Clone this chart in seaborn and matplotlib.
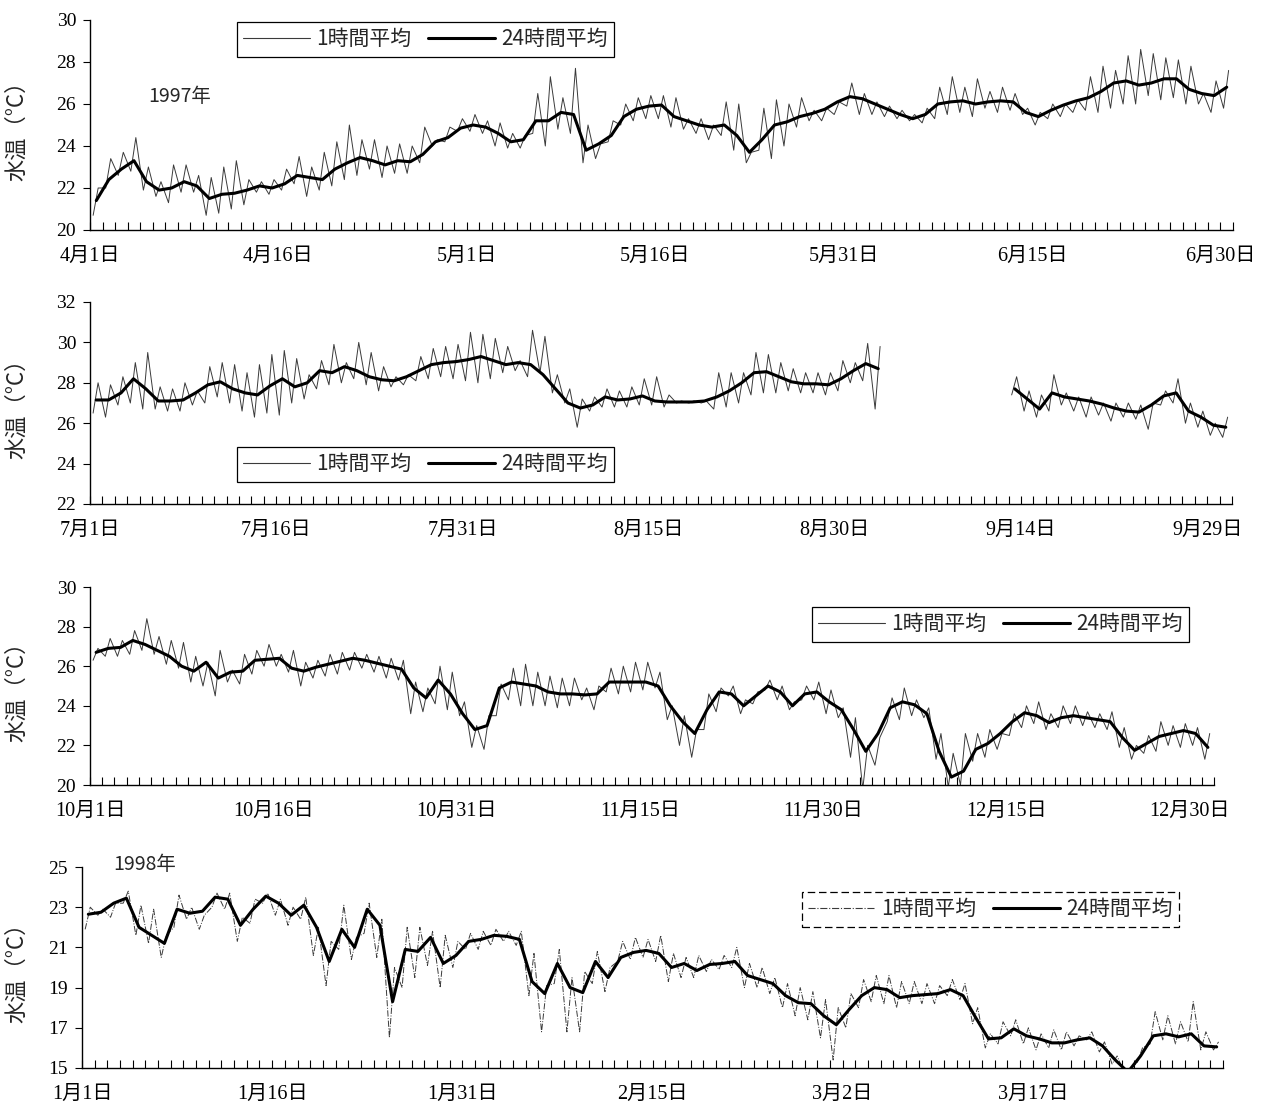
import numpy as np
import pandas as pd
import matplotlib
matplotlib.use("Agg")
import matplotlib.pyplot as plt
import seaborn as sns
from matplotlib.lines import Line2D
from matplotlib.ticker import MultipleLocator, FixedLocator

sns.set_theme(style="ticks")
plt.rcParams["font.family"] = ["Liberation Serif", "Noto Sans CJK JP", "DejaVu Sans"]

nan = np.nan

# ---- 1997 4-6月 (日ごとの値、図から読み取り) ----
p1_labels = ["4月1日", "4月16日", "5月1日", "5月16日", "5月31日", "6月15日", "6月30日"]
p1_avg = [21.4, 22.4, 22.9, 23.3, 22.3, 21.9, 22.0, 22.3, 22.1, 21.5,
          21.7, 21.75, 21.9, 22.1, 22.0, 22.2, 22.6, 22.5, 22.4, 22.9,
          23.2, 23.45, 23.3, 23.1, 23.3, 23.25, 23.6, 24.2, 24.4, 24.85,
          25.0, 24.9, 24.6, 24.2, 24.3, 25.2, 25.2, 25.6, 25.5, 23.8,
          24.1, 24.5, 25.4, 25.75, 25.9, 25.95, 25.4, 25.2, 25.0, 24.9,
          25.0, 24.5, 23.7, 24.3, 25.0, 25.15, 25.4, 25.55, 25.75, 26.1,
          26.35, 26.25, 26.0, 25.75, 25.5, 25.3, 25.5, 26.0, 26.1, 26.15,
          26.0, 26.1, 26.15, 26.1, 25.6, 25.4, 25.7, 25.95, 26.15, 26.3,
          26.6, 27.0, 27.1, 26.9, 27.0, 27.2, 27.2, 26.7, 26.5, 26.4,
          26.8]
p1_hi = [22.0, 23.4, 23.7, 24.4, 23.0, 22.3, 23.1, 23.1, 22.6, 22.5,
         23.0, 23.3, 22.4, 22.3, 22.4, 22.9, 23.5, 23.0, 23.7, 24.2,
         25.0, 24.3, 24.3, 24.0, 24.1, 24.0, 24.9, 24.3, 24.9, 25.3,
         25.5, 25.2, 25.1, 24.6, 24.5, 26.5, 27.3, 26.3, 27.7, 25.0,
         24.1, 25.2, 26.0, 26.3, 26.4, 26.4, 26.3, 25.3, 25.3, 25.0,
         26.1, 26.0, 23.7, 25.8, 26.2, 26.0, 26.3, 25.7, 25.8, 26.1,
         27.0, 26.5, 26.1, 25.9, 25.7, 25.5, 25.8, 26.8, 27.3, 26.8,
         27.2, 26.6, 26.8, 26.5, 25.8, 25.6, 26.0, 26.0, 26.2, 27.3,
         27.8, 27.6, 28.3, 28.6, 28.4, 28.2, 28.1, 27.8, 26.5, 27.1,
         27.6]
p1_lo = [20.7, 22.0, 22.6, 22.8, 21.9, 21.6, 21.3, 21.8, 21.8, 20.7,
         20.8, 21.0, 21.2, 21.8, 21.7, 21.9, 22.2, 21.6, 21.9, 22.1,
         22.4, 22.6, 22.9, 22.5, 22.7, 22.7, 23.2, 24.0, 24.2, 24.7,
         24.7, 24.6, 24.0, 23.9, 23.9, 24.6, 24.0, 24.8, 24.6, 23.2,
         23.4, 24.2, 25.0, 25.2, 25.3, 25.3, 24.9, 24.8, 24.6, 24.3,
         24.5, 23.8, 23.2, 23.8, 23.4, 24.0, 24.9, 25.2, 25.2, 25.5,
         25.9, 25.5, 25.5, 25.4, 25.3, 25.2, 25.1, 25.3, 25.5, 25.6,
         25.4, 25.8, 25.6, 25.7, 25.5, 25.0, 25.3, 25.4, 25.6, 25.7,
         25.6, 25.8, 26.0, 26.0, 26.4, 26.2, 26.3, 26.0, 26.0, 25.6,
         25.8]

# ---- 1997 7-9月 ----
p2_labels = ["7月1日", "7月16日", "7月31日", "8月15日", "8月30日", "9月14日", "9月29日"]
p2_avg = [27.15, 27.15, 27.5, 28.2, 27.7, 27.1, 27.1, 27.15, 27.5, 27.9,
          28.05, 27.7, 27.5, 27.4, 27.85, 28.2, 27.8, 28.0, 28.6, 28.5,
          28.8, 28.6, 28.3, 28.15, 28.1, 28.3, 28.6, 28.9, 29.0, 29.05,
          29.15, 29.3, 29.1, 28.9, 29.0, 28.9, 28.4, 27.7, 27.0, 26.75,
          26.9, 27.3, 27.15, 27.2, 27.35, 27.1, 27.05, 27.05, 27.05, 27.1,
          27.3, 27.6, 28.0, 28.5, 28.55, 28.3, 28.05, 27.95, 27.95, 27.9,
          28.2, 28.6, 28.95, 28.7, nan, nan, nan, nan, nan, nan,
          nan, nan, nan, nan, 27.7, 27.2, 26.7, 27.5, 27.3, 27.2,
          27.1, 26.95, 26.75, 26.6, 26.55, 26.9, 27.35, 27.5, 26.6, 26.3,
          25.9, 25.8]
p2_hi = [28.0, 27.9, 28.3, 29.0, 29.5, 27.8, 27.7, 28.0, 27.6, 28.8,
         29.0, 28.9, 28.5, 28.9, 29.4, 29.6, 29.2, 28.4, 29.1, 29.9,
         29.0, 30.0, 29.5, 28.8, 28.3, 28.4, 29.3, 29.7, 29.8, 29.9,
         30.5, 30.4, 30.2, 29.8, 29.1, 30.6, 30.3, 28.4, 27.7, 27.2,
         27.3, 27.7, 27.6, 27.8, 28.2, 28.3, 27.4, 27.1, 27.1, 27.1,
         28.5, 28.5, 28.5, 29.5, 29.4, 29.0, 28.7, 28.5, 28.5, 28.5,
         29.1, 29.0, 29.95, 29.8, nan, nan, nan, nan, nan, nan,
         nan, nan, nan, nan, 28.3, 27.6, 27.4, 28.4, 27.5, 27.3,
         27.3, 27.0, 27.0, 27.0, 26.9, 27.0, 27.6, 28.2, 27.0, 26.6,
         26.0, 26.3]
p2_lo = [26.5, 26.3, 26.9, 27.0, 26.7, 26.7, 26.6, 26.6, 26.9, 27.0,
         27.3, 27.0, 26.6, 26.3, 26.5, 26.4, 27.0, 27.2, 27.7, 27.9,
         28.0, 28.2, 27.9, 27.6, 27.8, 27.9, 28.1, 28.2, 28.3, 28.2,
         28.1, 28.0, 28.2, 28.5, 28.6, 28.3, 28.5, 27.5, 27.0, 25.8,
         26.6, 26.8, 26.8, 26.8, 26.9, 26.9, 26.8, 27.0, 27.0, 27.0,
         26.7, 26.8, 27.0, 27.4, 27.5, 27.5, 27.6, 27.5, 27.5, 27.4,
         27.6, 28.0, 28.1, 26.7, nan, nan, nan, nan, nan, nan,
         nan, nan, nan, nan, 27.4, 26.6, 26.3, 26.6, 26.9, 26.6,
         26.3, 26.4, 26.1, 26.3, 26.2, 25.7, 26.9, 27.0, 26.0, 25.8,
         25.4, 25.3]

# ---- 1997 10-12月 ----
p3_labels = ["10月1日", "10月16日", "10月31日", "11月15日", "11月30日", "12月15日", "12月30日"]
p3_avg = [26.7, 26.9, 26.95, 27.3, 27.1, 26.8, 26.5, 26.0, 25.75, 26.2,
          25.4, 25.7, 25.75, 26.3, 26.35, 26.4, 25.9, 25.75, 25.95, 26.1,
          26.25, 26.4, 26.3, 26.15, 26.0, 25.85, 24.9, 24.4, 25.3, 24.6,
          23.6, 22.8, 23.0, 24.9, 25.2, 25.1, 25.0, 24.7, 24.6, 24.6,
          24.55, 24.6, 25.2, 25.2, 25.2, 25.2, 25.0, 24.0, 23.2, 22.6,
          23.8, 24.7, 24.6, 24.0, 24.5, 25.0, 24.7, 24.0, 24.6, 24.7,
          24.2, 23.8, 22.8, 21.7, 22.6, 23.9, 24.2, 24.05, 23.6, 21.7,
          20.4, 20.7, 21.8, 22.1, 22.6, 23.2, 23.65, 23.5, 23.15, 23.4,
          23.5, 23.4, 23.3, 23.2, 22.4, 21.75, 22.1, 22.45, 22.6, 22.75,
          22.6, 21.9]
p3_hi = [26.9, 27.4, 27.3, 27.8, 28.4, 27.5, 27.3, 27.2, 26.5, 26.2,
         26.8, 25.8, 26.6, 26.8, 27.1, 26.6, 26.8, 26.2, 26.3, 26.6,
         26.7, 26.7, 26.6, 26.5, 26.4, 26.3, 25.2, 24.9, 26.0, 25.7,
         24.2, 23.0, 23.5, 25.1, 25.9, 26.1, 25.7, 25.5, 25.4, 25.4,
         24.9, 25.0, 25.9, 26.0, 26.2, 26.2, 25.7, 24.0, 23.5, 22.8,
         24.6, 24.9, 25.0, 24.3, 24.7, 25.3, 25.0, 24.2, 25.0, 25.2,
         24.8, 23.9, 23.4, 22.0, 22.4, 24.4, 24.9, 24.3, 23.9, 22.6,
         21.6, 22.6, 22.6, 22.8, 22.6, 23.6, 24.0, 24.2, 23.6, 24.0,
         24.0, 23.7, 23.6, 23.7, 22.9, 22.0, 22.5, 23.2, 23.0, 23.1,
         22.9, 22.6]
p3_lo = [26.3, 26.5, 26.5, 26.6, 26.8, 26.6, 26.1, 25.9, 25.2, 25.0,
         24.5, 25.2, 25.1, 25.6, 26.0, 26.0, 25.7, 25.0, 25.4, 25.5,
         25.6, 25.8, 25.9, 25.7, 25.4, 25.3, 23.6, 23.7, 24.1, 23.8,
         23.5, 21.9, 21.8, 23.5, 24.3, 24.0, 24.0, 24.0, 23.9, 24.0,
         24.3, 23.8, 24.7, 24.6, 24.7, 24.8, 24.9, 23.3, 22.0, 21.4,
         22.8, 23.7, 24.5, 23.6, 24.1, 24.8, 24.3, 23.8, 24.3, 24.3,
         23.6, 23.4, 21.4, 19.8, 21.0, 23.2, 23.3, 23.5, 23.4, 21.3,
         19.9, 20.0, 21.2, 21.4, 21.8, 22.5, 22.9, 23.1, 22.8, 22.9,
         23.1, 23.0, 22.9, 22.8, 21.9, 21.3, 21.6, 21.7, 22.0, 21.9,
         22.0, 21.3]

# ---- 1998 1-3月 ----
p4_labels = ["1月1日", "1月16日", "1月31日", "2月15日", "3月2日", "3月17日"]
p4_avg = [22.65, 22.75, 23.2, 23.45, 22.0, 21.6, 21.2, 22.9, 22.7, 22.8,
          23.5, 23.4, 22.1, 22.9, 23.55, 23.2, 22.6, 23.1, 22.0, 20.3,
          21.9, 21.0, 22.9, 22.1, 18.3, 20.9, 20.8, 21.5, 20.2, 20.6,
          21.3, 21.4, 21.6, 21.55, 21.4, 19.3, 18.7, 20.2, 19.0, 18.75,
          20.3, 19.5, 20.5, 20.75, 20.85, 20.7, 20.0, 20.2, 19.85, 20.15,
          20.2, 20.3, 19.6, 19.4, 19.2, 18.6, 18.25, 18.2, 17.6, 17.15,
          17.9, 18.6, 19.0, 18.9, 18.5, 18.6, 18.65, 18.7, 18.9, 18.6,
          17.5, 16.45, 16.5, 16.95, 16.6, 16.45, 16.25, 16.25, 16.4, 16.5,
          16.1, 15.4, 14.8, 15.6, 16.6, 16.7, 16.55, 16.7, 16.1, 16.05]
p4_hi = [23.0, 22.9, 23.2, 23.8, 23.1, 22.9, 21.6, 23.6, 23.0, 22.6,
         23.7, 23.7, 22.5, 23.4, 23.7, 23.4, 23.0, 23.5, 22.0, 21.3,
         23.1, 21.5, 23.2, 22.4, 20.0, 22.0, 22.0, 21.8, 21.6, 21.3,
         21.7, 21.8, 21.9, 21.8, 21.8, 20.7, 19.1, 20.9, 19.5, 19.8,
         20.8, 20.0, 21.3, 21.5, 21.4, 21.6, 20.7, 20.5, 20.6, 20.4,
         20.6, 21.0, 20.2, 20.0, 19.5, 19.2, 19.0, 18.8, 18.4, 18.0,
         18.7, 19.4, 19.6, 19.6, 19.3, 19.3, 19.2, 19.1, 19.4, 19.2,
         18.0, 16.7, 17.3, 17.4, 17.0, 16.7, 16.9, 16.8, 16.6, 16.8,
         16.3, 15.6, 14.9, 16.0, 17.8, 17.6, 17.3, 18.3, 16.8, 16.3]
p4_lo = [21.9, 22.6, 22.5, 23.2, 21.6, 21.2, 20.5, 22.0, 22.4, 21.9,
         23.0, 22.9, 21.3, 22.2, 23.2, 22.6, 22.1, 22.4, 20.6, 19.1,
         20.9, 20.4, 21.7, 20.5, 16.5, 19.0, 19.5, 20.1, 19.0, 20.0,
         20.9, 20.9, 21.1, 21.3, 21.1, 18.6, 16.8, 19.2, 16.8, 16.8,
         19.2, 18.8, 20.3, 20.4, 20.5, 20.3, 19.3, 19.5, 19.5, 19.8,
         19.9, 20.0, 19.0, 19.0, 18.7, 18.0, 17.6, 17.4, 16.5, 15.4,
         17.0, 18.0, 18.3, 18.2, 18.0, 18.2, 18.2, 18.2, 18.6, 18.4,
         17.2, 16.0, 16.2, 16.6, 16.2, 15.9, 16.0, 15.9, 16.1, 16.4,
         15.8, 15.2, 14.7, 15.3, 16.2, 16.4, 16.2, 16.3, 15.9, 15.9]

W, H = 1271, 1117
CJK = ["Noto Sans CJK JP", "DejaVu Sans"]


def hourly_frame(hi, lo):
    # 1日の最低値と最高値を交互に並べる
    days = np.arange(len(hi))
    x = np.column_stack([days + 0.25, days + 0.65]).ravel()
    v = np.column_stack([lo, hi]).ravel()
    df = pd.DataFrame({"day": x, "temp": v})
    df["seg"] = df["temp"].isna().cumsum()
    return df.dropna()


def daily_frame(avg):
    df = pd.DataFrame({"day": np.arange(len(avg)) + 0.5, "temp": avg})
    df["seg"] = df["temp"].isna().cumsum()
    return df.dropna()


panels = [
    # avg, hi, lo, labels, ndays, ylim, (left, top, bottom, right) px, legend UL px, hourly style
    (p1_avg, p1_hi, p1_lo, p1_labels, 91, (20, 30), (90, 20, 230, 1233), (237, 22), "-"),
    (p2_avg, p2_hi, p2_lo, p2_labels, 92, (22, 32), (90, 302, 504, 1232), (237, 447), "-"),
    (p3_avg, p3_hi, p3_lo, p3_labels, 92, (20, 30), (90, 587, 785, 1214), (812, 607), "-"),
    (p4_avg, p4_hi, p4_lo, p4_labels, 90, (15, 25), (82, 867, 1068, 1223), (802, 892), "-."),
]

fig = plt.figure(figsize=(W / 100, H / 100), dpi=100)

for avg, hi, lo, labels, ndays, ylim, (left, top, bot, right), (lx, ly), hstyle in panels:
    aw, ah = right - left, bot - top
    ax = fig.add_axes([left / W, 1 - bot / H, aw / W, ah / H])
    hdf = hourly_frame(np.asarray(hi, float), np.asarray(lo, float))
    adf = daily_frame(np.asarray(avg, float))
    sns.lineplot(data=hdf, x="day", y="temp", units="seg", estimator=None, ax=ax,
                 color="#3a3a3a", linewidth=0.7, linestyle=hstyle, sort=False)
    sns.lineplot(data=adf, x="day", y="temp", units="seg", estimator=None, ax=ax,
                 color="black", linewidth=2.2, sort=False)

    ax.set_xlim(0, ndays)
    ax.set_ylim(*ylim)
    ax.yaxis.set_major_locator(FixedLocator(np.arange(ylim[0], ylim[1] + 1, 2)))
    ax.xaxis.set_major_locator(FixedLocator([15 * i for i in range(len(labels))]))
    ax.set_xticklabels(labels)
    ax.xaxis.set_minor_locator(MultipleLocator(1))
    ax.tick_params(axis="x", which="both", direction="in", length=6, width=0.8,
                   pad=12, labelsize=14.5, colors="black")
    ax.tick_params(axis="y", direction="out", length=5, width=0.8, pad=5,
                   labelsize=14, colors="black")
    for s in ["left", "bottom"]:
        ax.spines[s].set_color("black")
        ax.spines[s].set_linewidth(1.0)
    sns.despine(ax=ax)

    ax.set_xlabel("")
    ax.set_ylabel("水温（°C）", fontsize=16, family=CJK)
    ax.yaxis.set_label_coords((28 - left) / aw, 0.5)

    handles = [Line2D([], [], color="#3a3a3a", lw=0.8, ls=hstyle),
               Line2D([], [], color="black", lw=2.2)]
    leg = ax.legend(handles, ["1時間平均", "24時間平均"], loc="upper left",
                    bbox_to_anchor=((lx - left) / aw, 1 - (ly - top) / ah),
                    ncol=2, frameon=True, fancybox=False, framealpha=1,
                    edgecolor="black", handlelength=3.2, handletextpad=0.3,
                    columnspacing=0.8, borderpad=0.3, borderaxespad=0,
                    prop={"family": CJK, "size": 15})
    leg.get_frame().set_linewidth(0.9)
    if hstyle != "-":
        leg.get_frame().set_linestyle((0, (6, 3)))

fig.text(148 / W, 1 - 97 / H, "1997年", fontsize=14, family=CJK, va="center", ha="left")
fig.text(113 / W, 1 - 864 / H, "1998年", fontsize=14, family=CJK, va="center", ha="left")

fig.savefig("out.png", dpi=100)
